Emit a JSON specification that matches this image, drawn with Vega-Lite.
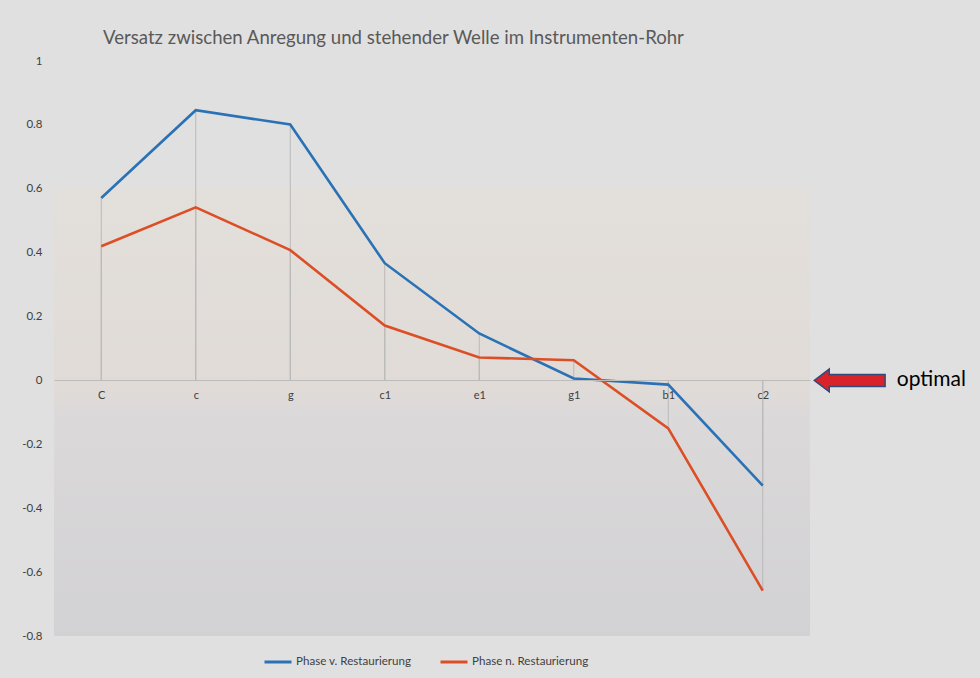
{
  "$schema": "https://vega.github.io/schema/vega-lite/v6.json",
  "width": 756,
  "height": 575,
  "autosize": {"type": "none"},
  "padding": {"left": 54, "top": 61, "right": 170, "bottom": 42},
  "background": "#e0e0e0",
  "config": {
    "view": {"stroke": null},
    "font": "Lato"
  },
  "title": {
    "text": "Versatz zwischen Anregung und stehender Welle im Instrumenten-Rohr",
    "anchor": "start",
    "frame": "group",
    "dx": 49,
    "offset": 7,
    "font": "Lato",
    "fontSize": 18.6,
    "fontWeight": "normal",
    "color": "#595959"
  },
  "datasets": {
    "phase": [
      {"note": "C", "series": "Phase v. Restaurierung", "value": 0.571},
      {"note": "c", "series": "Phase v. Restaurierung", "value": 0.846},
      {"note": "g", "series": "Phase v. Restaurierung", "value": 0.801},
      {"note": "c1", "series": "Phase v. Restaurierung", "value": 0.367},
      {"note": "e1", "series": "Phase v. Restaurierung", "value": 0.147},
      {"note": "g1", "series": "Phase v. Restaurierung", "value": 0.006},
      {"note": "b1", "series": "Phase v. Restaurierung", "value": -0.013},
      {"note": "c2", "series": "Phase v. Restaurierung", "value": -0.329},
      {"note": "C", "series": "Phase n. Restaurierung", "value": 0.42},
      {"note": "c", "series": "Phase n. Restaurierung", "value": 0.542},
      {"note": "g", "series": "Phase n. Restaurierung", "value": 0.408},
      {"note": "c1", "series": "Phase n. Restaurierung", "value": 0.172},
      {"note": "e1", "series": "Phase n. Restaurierung", "value": 0.072},
      {"note": "g1", "series": "Phase n. Restaurierung", "value": 0.063},
      {"note": "b1", "series": "Phase n. Restaurierung", "value": -0.15},
      {"note": "c2", "series": "Phase n. Restaurierung", "value": -0.658}
    ]
  },
  "layer": [
    {
      "data": {"values": [{}]},
      "mark": {
        "type": "rect",
        "color": {
          "gradient": "linear",
          "x1": 0, "y1": 0, "x2": 0, "y2": 1,
          "stops": [
            {"offset": 0, "color": "#e3dfdb"},
            {"offset": 0.45, "color": "#e0dbd7"},
            {"offset": 0.5, "color": "#dbd9d9"},
            {"offset": 1, "color": "#d2d1d4"}
          ]
        }
      },
      "encoding": {
        "y": {"datum": 0.6, "type": "quantitative", "scale": {"domain": [-0.8, 1], "nice": false, "zero": false}},
        "y2": {"datum": -0.8}
      }
    },
    {
      "data": {"name": "phase"},
      "mark": {"type": "rule", "color": "#b9b9b9", "strokeWidth": 1},
      "encoding": {
        "x": {
          "field": "note", "type": "nominal", "sort": null,
          "scale": {"type": "point", "padding": 0.5},
          "axis": {
            "title": null,
            "offset": -256,
            "zindex": 1,
            "domainColor": "#bcbcbc",
            "domainWidth": 1,
            "ticks": false,
            "labelAngle": 0,
            "labelPadding": 9,
            "labelFont": "Lato",
            "labelFontSize": 11,
            "labelColor": "#404040"
          }
        },
        "y": {"field": "value", "type": "quantitative"},
        "y2": {"datum": 0}
      }
    },
    {
      "data": {"name": "phase"},
      "mark": {"type": "line", "strokeWidth": 2.6},
      "encoding": {
        "x": {"field": "note", "type": "nominal", "sort": null, "scale": {"type": "point", "padding": 0.5}},
        "y": {
          "field": "value", "type": "quantitative",
          "scale": {"domain": [-0.8, 1], "nice": false, "zero": false},
          "axis": {
            "title": null,
            "values": [-0.8, -0.6, -0.4, -0.2, 0, 0.2, 0.4, 0.6, 0.8, 1],
            "labelExpr": "'' + datum.value",
            "domain": false,
            "ticks": false,
            "grid": false,
            "labelPadding": 12,
            "labelFont": "Lato",
            "labelFontSize": 11.5,
            "labelColor": "#404040"
          }
        },
        "color": {
          "field": "series", "type": "nominal",
          "scale": {"domain": ["Phase v. Restaurierung", "Phase n. Restaurierung"], "range": ["#2a72b5", "#dc4f26"]},
          "legend": {
            "title": null,
            "orient": "none",
            "legendX": 209,
            "legendY": 586,
            "direction": "horizontal",
            "symbolType": "stroke",
            "symbolStrokeWidth": 3,
            "symbolSize": 729,
            "labelFont": "Lato",
            "labelFontSize": 11.6,
            "labelColor": "#404040",
            "labelOffset": 3,
            "columnPadding": 22
          }
        },
        "order": {"field": "series"}
      }
    },
    {
      "data": {"values": [{"label": "optimal"}]},
      "mark": {
        "type": "point",
        "shape": "M -1 0 L -0.58 -0.32 L -0.58 -0.17 L 1 -0.17 L 1 0.17 L -0.58 0.17 L -0.58 0.32 Z",
        "size": 5000,
        "filled": true,
        "fill": "#d9232a",
        "stroke": "#2f4b7c",
        "strokeWidth": 1.5,
        "opacity": 1,
        "xOffset": 87
      },
      "encoding": {
        "x": {"datum": "c2", "type": "nominal"},
        "y": {"datum": 0, "type": "quantitative"}
      }
    },
    {
      "data": {"values": [{"label": "optimal"}]},
      "mark": {"type": "text", "align": "left", "baseline": "middle", "dx": 134, "fontSize": 21, "font": "Lato", "color": "#000000"},
      "encoding": {
        "x": {"datum": "c2", "type": "nominal"},
        "y": {"datum": 0, "type": "quantitative"},
        "text": {"field": "label"}
      }
    }
  ]
}
